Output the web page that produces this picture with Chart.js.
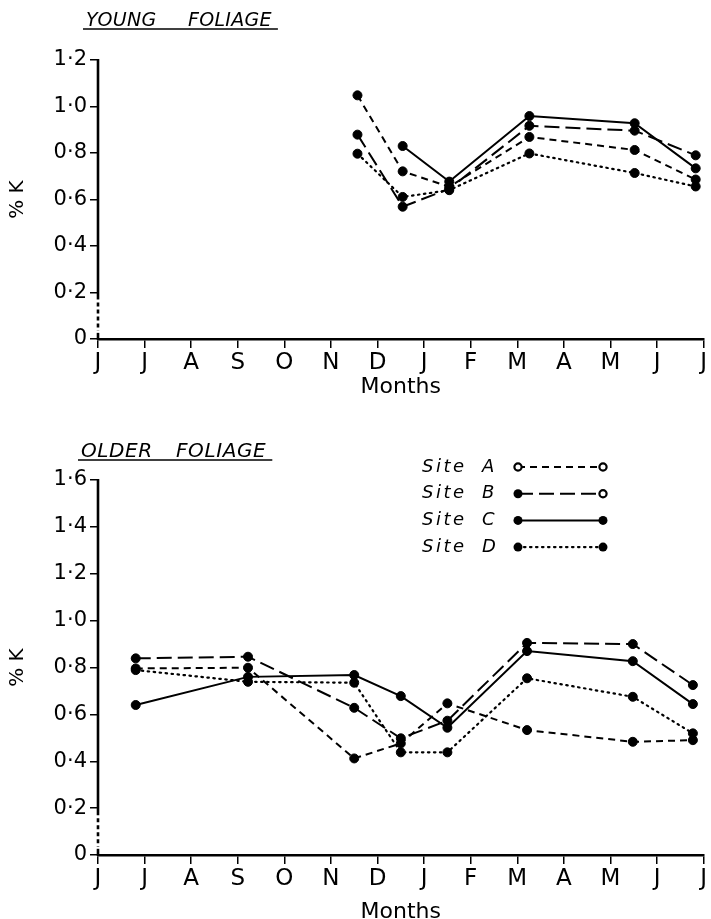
<!DOCTYPE html>
<html><head><meta charset="utf-8">
<script src="https://cdn.jsdelivr.net/npm/chart.js@4.4.1/dist/chart.umd.min.js"></script>
<style>
html,body{margin:0;padding:0;background:#fff;}
#wrap{position:relative;width:711px;height:919px;background:#fff;overflow:hidden;}
.box{position:absolute;left:0;width:711px;}
</style></head><body>
<div id="wrap">
<div class="box" style="top:0;height:410px"><canvas id="c1" width="711" height="410"></canvas></div>
<div class="box" style="top:410px;height:509px"><canvas id="c2" width="711" height="509"></canvas></div>
</div>
<script>
// ---------- data ----------
const monthLabels = ['J','J','A','S','O','N','D','J','F','M','A','M','J','J'];
const siteNames = ['A','B','C','D'];
const youngTickLabels = ['0','0·2','0·4','0·6','0·8','1·0','1·2'];
const olderTickLabels = ['0','0·2','0·4','0·6','0·8','1·0','1·2','1·4','1·6'];

const youngX = [5.57, 6.54, 7.54, 9.26, 11.52, 12.83];
const youngA = [1.048, 0.721, 0.655, 0.869, 0.813, 0.686];
const youngB = [0.879, 0.569, 0.646, 0.917, 0.896, 0.790];
const youngC = [null, 0.830, 0.677, 0.959, 0.928, 0.734];
const youngD = [0.797, 0.611, 0.640, 0.798, 0.714, 0.656];

const olderX = [0.81, 3.22, 5.50, 6.50, 7.50, 9.21, 11.48, 12.77];
const olderA = [0.796, 0.799, 0.412, 0.476, 0.647, 0.533, 0.483, 0.490];
const olderB = [0.839, 0.846, 0.628, 0.498, 0.573, 0.905, 0.900, 0.725];
const olderC = [0.640, 0.760, 0.768, 0.678, 0.543, 0.870, 0.827, 0.644];
const olderD = [0.789, 0.739, 0.735, 0.438, 0.438, 0.754, 0.675, 0.519];

// ---------- styles ----------
const FONT = '"DejaVu Sans"';
const lineStyles = [
  {dash:[7,5], width:2},
  {dash:[15,6], width:2},
  {dash:[], width:2},
  {dash:[1.5,4.5], width:2.2}
];

function makeDatasets(xs, series){
  return series.map((vals, i) => ({
    label: 'Site ' + siteNames[i],
    data: xs.map((x, j) => ({x: x, y: vals[j]})),
    borderColor: '#000',
    backgroundColor: '#000',
    borderWidth: lineStyles[i].width,
    borderDash: lineStyles[i].dash,
    borderCapStyle: i === 3 ? 'round' : 'butt',
    pointRadius: 4.5,
    pointBorderWidth: 1,
    pointBackgroundColor: '#000',
    pointBorderColor: '#000',
    tension: 0,
    spanGaps: false,
    fill: false
  }));
}

// y axis line with a broken segment near zero
const brokenAxis = {
  id: 'brokenAxis',
  afterDraw(chart) {
    const {ctx, chartArea} = chart;
    const y = chart.scales.y;
    const x = chartArea.left;
    const p1 = y.getPixelForValue(0.17), p2 = y.getPixelForValue(0.035);
    ctx.save();
    ctx.strokeStyle = '#000';
    ctx.lineWidth = 2.6;
    ctx.beginPath(); ctx.moveTo(x, y.top - 1); ctx.lineTo(x, p1); ctx.stroke();
    ctx.setLineDash([4,3]);
    ctx.beginPath(); ctx.moveTo(x, p1 + 3); ctx.lineTo(x, p2); ctx.stroke();
    ctx.setLineDash([]);
    ctx.beginPath(); ctx.moveTo(x, p2 + 2); ctx.lineTo(x, y.bottom + 1); ctx.stroke();
    ctx.restore();
  }
};

const panelTitle = {
  id: 'panelTitle',
  afterDraw(chart, args, opts) {
    if (!opts || !opts.words) return;
    const {ctx, chartArea} = chart;
    ctx.save();
    ctx.font = 'oblique ' + opts.size + 'px ' + FONT;
    ctx.fillStyle = '#000';
    ctx.textBaseline = 'alphabetic';
    ctx.letterSpacing = opts.spacing + 'px';
    const tx = chartArea.left + opts.dx, ty = chartArea.top + opts.dy;
    ctx.fillText(opts.words[0], tx, ty);
    const x2 = tx + opts.gap;
    ctx.fillText(opts.words[1], x2, ty);
    const w = ctx.measureText(opts.words[1]).width;
    ctx.letterSpacing = '0px';
    ctx.strokeStyle = '#000';
    ctx.lineWidth = 1.6;
    ctx.beginPath();
    ctx.moveTo(tx - 3, ty + 3); ctx.lineTo(x2 + w + 6, ty + 3);
    ctx.stroke();
    ctx.restore();
  }
};

const lineLegend = {
  id: 'lineLegend',
  afterDraw(chart, args, opts) {
    if (!opts || !opts.display) return;
    const {ctx, chartArea} = chart;
    ctx.save();
    chart.data.datasets.forEach((ds, i) => {
      const yc = chartArea.top + opts.dy + i * opts.rowH;
      const tx = chartArea.left + opts.dx;
      ctx.font = 'oblique ' + opts.size + 'px ' + FONT;
      ctx.fillStyle = '#000';
      ctx.textBaseline = 'middle';
      ctx.letterSpacing = '2.5px';
      ctx.fillText('Site', tx, yc);
      ctx.letterSpacing = '0px';
      ctx.fillText(siteNames[i], tx + 60, yc);
      const x1 = chartArea.left + opts.lx1, x2 = chartArea.left + opts.lx2;
      ctx.strokeStyle = '#000';
      ctx.lineWidth = ds.borderWidth;
      ctx.lineCap = ds.borderCapStyle;
      ctx.setLineDash(ds.borderDash);
      ctx.beginPath(); ctx.moveTo(x1, yc); ctx.lineTo(x2, yc); ctx.stroke();
      ctx.setLineDash([]);
      const marks = [[x1, i === 0], [x2, i <= 1]];
      marks.forEach(([mx, open]) => {
        ctx.beginPath();
        ctx.arc(mx, yc, open ? 3.6 : 4.5, 0, Math.PI * 2);
        if (open) { ctx.fillStyle = '#fff'; ctx.fill(); ctx.lineWidth = 2.2; ctx.stroke(); }
        else { ctx.fillStyle = '#000'; ctx.fill(); }
      });
    });
    ctx.restore();
  }
};

function makeChart(canvasId, xs, series, ymax, tickLabels, cfg) {
  return new Chart(document.getElementById(canvasId), {
    type: 'line',
    data: { datasets: makeDatasets(xs, series) },
    plugins: [brokenAxis, panelTitle, lineLegend],
    options: {
      responsive: false,
      animation: false,
      devicePixelRatio: 1,
      layout: { padding: { top: cfg.padTop, left: 0, right: 3, bottom: 0 } },
      plugins: {
        legend: { display: false },
        tooltip: { enabled: false },
        panelTitle: cfg.title,
        lineLegend: cfg.legend
      },
      scales: {
        x: {
          type: 'linear', min: 0, max: 13,
          afterFit: s => { s.height = cfg.xHeight; },
          border: { display: true, color: '#000', width: 2.6 },
          grid: { display: true, drawOnChartArea: false, drawTicks: true, tickLength: 9, color: '#000', lineWidth: 1.5 },
          ticks: {
            stepSize: 1, autoSkip: false, maxRotation: 0, padding: 4, color: '#000',
            font: { family: FONT, size: 23, lineHeight: 1 },
            callback: v => monthLabels[Math.round(v)]
          },
          title: { display: true, text: 'Months', color: '#000', font: { family: FONT, size: 22, lineHeight: 1 }, padding: { top: 0, bottom: cfg.monthsPad } }
        },
        y: {
          min: 0, max: ymax,
          afterFit: s => { s.width = 98; },
          border: { display: false },
          grid: { display: true, drawOnChartArea: false, drawTicks: true, tickLength: 8, color: '#000', lineWidth: 1.5 },
          ticks: {
            stepSize: 0.2, padding: 3, color: '#000',
            font: { family: FONT, size: 21 },
            callback: v => tickLabels[Math.round(v / 0.2)]
          },
          title: { display: true, text: '% K', color: '#000', font: { family: FONT, size: 20, lineHeight: 1 }, padding: { top: 8, bottom: 0 } }
        }
      }
    }
  });
}

makeChart('c1', youngX, [youngA, youngB, youngC, youngD], 1.2, youngTickLabels, {
  padTop: 60, xHeight: 71, monthsPad: 12,
  title: { words: ['YOUNG', 'FOLIAGE'], gap: 102, dx: -12, dy: -34, size: 19, spacing: 0.3 },
  legend: { display: false }
});
makeChart('c2', olderX, [olderA, olderB, olderC, olderD], 1.6, olderTickLabels, {
  padTop: 70, xHeight: 64, monthsPad: -4,
  title: { words: ['OLDER', 'FOLIAGE'], gap: 95, dx: -17, dy: -23, size: 20, spacing: 0.6 },
  legend: { display: true, dx: 324, dy: -13, rowH: 26.7, lx1: 420, lx2: 505, size: 18 }
});
</script>
</body></html>
